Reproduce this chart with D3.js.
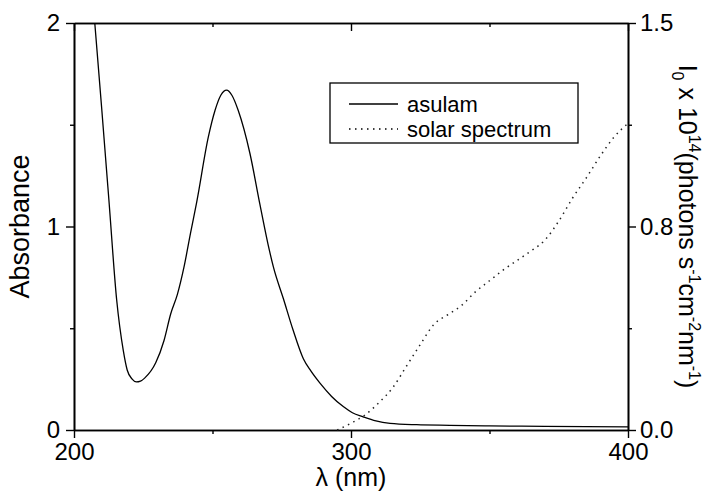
<!DOCTYPE html>
<html>
<head>
<meta charset="utf-8">
<script src="https://cdn.jsdelivr.net/npm/d3@7"></script>
<style>
  body { margin: 0; background: #fff; }
  text { font-family: "Liberation Sans", Arial, sans-serif; fill: #000; }
</style>
</head>
<body>
<div id="chart"></div>
<script>
// asulam absorbance
var asulamWl  = [207.5, 210, 212.6, 215.4, 217.8, 219.2, 221, 222.5, 224, 225.5, 229.5, 232.5, 234.9, 237.3, 239.7, 242.1, 244.3, 248.5, 250.9, 253, 255.1, 257, 259.3, 263.5, 267.1, 270.5, 272, 275.6, 279, 282.8, 285.5, 288.8, 293, 297.2, 300.5, 304.4, 309, 314.1, 323.7, 335.7, 350, 370, 400];
var asulamAbs = [2.0, 1.58, 1.13, 0.64, 0.39, 0.295, 0.25, 0.236, 0.24, 0.255, 0.33, 0.44, 0.57, 0.665, 0.80, 0.97, 1.12, 1.44, 1.57, 1.645, 1.67, 1.645, 1.57, 1.36, 1.11, 0.885, 0.80, 0.645, 0.495, 0.35, 0.29, 0.23, 0.165, 0.115, 0.085, 0.065, 0.045, 0.033, 0.026, 0.023, 0.02, 0.018, 0.015];

// solar spectrum I0 x 10^14
var solarWl = [295, 300, 305, 310, 315, 320, 325, 330, 335, 340, 345, 350, 355, 360, 365, 370, 375, 380, 385, 390, 395, 400];
var solarI  = [0.0, 0.025, 0.055, 0.1, 0.155, 0.235, 0.315, 0.39, 0.425, 0.46, 0.51, 0.55, 0.59, 0.625, 0.66, 0.70, 0.77, 0.855, 0.93, 1.01, 1.08, 1.13];

var xMajor = [200, 300, 400];
var xMinor = [250, 350];
var absMajor = [0, 1, 2];
var absMinor = [0.5, 1.5];
var solarMajor = [0, 0.75, 1.5];
var solarLabels = ["0.0", "0.8", "1.5"];
var solarMinor = [0.375, 1.125];

var W = 714, H = 494;
var m = {top: 23, right: 86, bottom: 64, left: 74};
var w = W - m.left - m.right, h = H - m.top - m.bottom;

var svg = d3.select("#chart").append("svg")
  .attr("width", W).attr("height", H);
var g = svg.append("g").attr("transform", "translate(" + m.left + "," + m.top + ")");

var x = d3.scaleLinear().domain([200, 400]).range([0, w]);
var yA = d3.scaleLinear().domain([0, 2]).range([h, 0]);
var yS = d3.scaleLinear().domain([0, 1.5]).range([h, 0]);

g.append("clipPath").attr("id", "clip")
  .append("rect").attr("width", w).attr("height", h);

// axes
function style(sel) {
  sel.selectAll("path").attr("stroke", "#000").attr("stroke-width", 1.6);
  sel.selectAll("line").attr("stroke", "#000").attr("stroke-width", 1.4);
  sel.selectAll("text").style("font-size", "24px").attr("font-family", null);
}

g.append("g").attr("transform", "translate(0," + h + ")")
  .call(d3.axisBottom(x).tickValues(xMinor).tickSize(4).tickFormat("").tickSizeOuter(0)).call(style);
g.append("g").attr("transform", "translate(0," + h + ")")
  .call(d3.axisBottom(x).tickValues(xMajor).tickSize(8).tickPadding(5).tickSizeOuter(0)).call(style);

g.append("g").call(d3.axisTop(x).tickValues(xMinor).tickSize(-4).tickFormat("").tickSizeOuter(0)).call(style);
g.append("g").call(d3.axisTop(x).tickValues(xMajor).tickSize(-8).tickFormat("").tickSizeOuter(0)).call(style);

g.append("g").call(d3.axisLeft(yA).tickValues(absMinor).tickSize(4).tickFormat("").tickSizeOuter(0)).call(style);
g.append("g").call(d3.axisLeft(yA).tickValues(absMajor).tickSize(8).tickPadding(6).tickFormat(d3.format("d")).tickSizeOuter(0)).call(style);

g.append("g").attr("transform", "translate(" + w + ",0)")
  .call(d3.axisRight(yS).tickValues(solarMinor).tickSize(4).tickFormat("").tickSizeOuter(0)).call(style);
g.append("g").attr("transform", "translate(" + w + ",0)")
  .call(d3.axisRight(yS).tickValues(solarMajor).tickSize(8).tickPadding(4)
    .tickFormat(function(d, i) { return solarLabels[i]; }).tickSizeOuter(0)).call(style);

// curves
var asulamLine = d3.line()
  .x(function(d, i) { return x(asulamWl[i]); })
  .y(function(d) { return yA(d); })
  .curve(d3.curveMonotoneX);
g.append("path").datum(asulamAbs)
  .attr("clip-path", "url(#clip)")
  .attr("fill", "none").attr("stroke", "#000").attr("stroke-width", 1.3)
  .attr("d", asulamLine);

var solarLine = d3.line()
  .x(function(d, i) { return x(solarWl[i]); })
  .y(function(d) { return yS(d); })
  .curve(d3.curveMonotoneX);
g.append("path").datum(solarI)
  .attr("fill", "none").attr("stroke", "#222").attr("stroke-width", 1.5)
  .attr("stroke-dasharray", "1.5,4.5")
  .attr("d", solarLine);

// axis titles
svg.append("text")
  .attr("transform", "translate(29," + (m.top + h / 2) + ") rotate(-90)")
  .attr("text-anchor", "middle").style("font-size", "27px")
  .text("Absorbance");

svg.append("text")
  .attr("x", m.left + w / 2).attr("y", 486)
  .attr("text-anchor", "middle").style("font-size", "25px")
  .text("\u03bb (nm)");

var rt = svg.append("text")
  .attr("transform", "translate(679," + (m.top + h / 2) + ") rotate(90)")
  .attr("text-anchor", "middle").style("font-size", "25px");
rt.append("tspan").text("I");
rt.append("tspan").attr("dy", 7).style("font-size", "16px").text("0");
rt.append("tspan").attr("dy", -7).text(" x 10");
rt.append("tspan").attr("dy", -10).style("font-size", "16px").text("14");
rt.append("tspan").attr("dy", 10).text("(photons s");
rt.append("tspan").attr("dy", -10).style("font-size", "16px").text("-1");
rt.append("tspan").attr("dy", 10).text("cm");
rt.append("tspan").attr("dy", -10).style("font-size", "16px").text("-2");
rt.append("tspan").attr("dy", 10).text("nm");
rt.append("tspan").attr("dy", -10).style("font-size", "16px").text("-1");
rt.append("tspan").attr("dy", 10).text(")");

// legend
var lg = svg.append("g");
lg.append("rect").attr("x", 330).attr("y", 83).attr("width", 248).attr("height", 60)
  .attr("fill", "#fff").attr("stroke", "#000").attr("stroke-width", 1.3);
var legendItems = [
  {name: "asulam", dash: null, y: 104},
  {name: "solar spectrum", dash: "1.5,4.5", y: 129}
];
legendItems.forEach(function(d) {
  lg.append("line").attr("x1", 349).attr("x2", 398).attr("y1", d.y).attr("y2", d.y)
    .attr("stroke", "#000").attr("stroke-width", d.dash ? 1.5 : 1.3)
    .attr("stroke-dasharray", d.dash);
  lg.append("text").attr("x", 407).attr("y", d.y).attr("dy", "0.35em")
    .style("font-size", "22px").text(d.name);
});
</script>
</body>
</html>
